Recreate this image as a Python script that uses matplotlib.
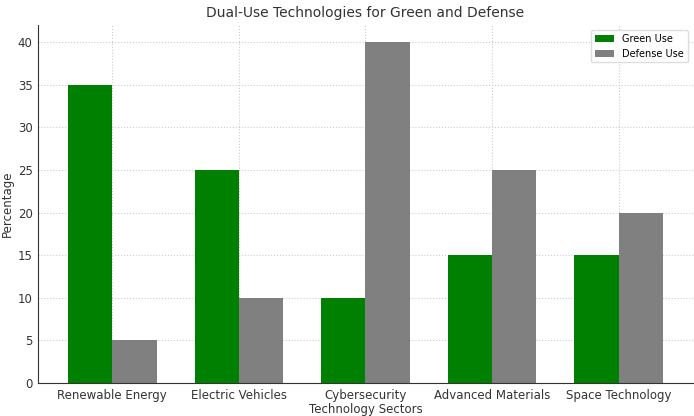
import matplotlib
matplotlib.use('Agg')
import matplotlib.pyplot as plt
import numpy as np

sectors = ['Renewable Energy', 'Electric Vehicles', 'Cybersecurity',
           'Advanced Materials', 'Space Technology']
green_use = [35, 25, 10, 15, 15]
defense_use = [5, 10, 40, 25, 20]

x = np.arange(len(sectors))
width = 0.35

fig = plt.figure(figsize=(6.94, 4.16), dpi=100)
ax = fig.add_axes([0.055, 0.079, 0.943, 0.861])

ax.bar(x - width / 2, green_use, width, label='Green Use', color='green')
ax.bar(x + width / 2, defense_use, width, label='Defense Use', color='gray')

ax.set_title('Dual-Use Technologies for Green and Defense', fontsize=10, color='#333333')
ax.set_xlabel('Technology Sectors', fontsize=8.5, color='#333333', labelpad=1)
ax.set_ylabel('Percentage', fontsize=8.5, color='#333333', labelpad=3)
ax.set_xticks(x)
ax.set_xticklabels(sectors)
ax.tick_params(axis='both', length=0, labelsize=8.5, labelcolor='#333333', pad=4)
ax.grid(True, linestyle=':', color='#cccccc', linewidth=0.8)
ax.set_axisbelow(True)
ax.spines['top'].set_visible(False)
ax.spines['right'].set_visible(False)
ax.spines['left'].set_color('#333333')
ax.spines['bottom'].set_color('#333333')
ax.legend(loc='upper right', fontsize=7, handlelength=2, framealpha=1, edgecolor='#dddddd')

fig.savefig('out.png', dpi=100)
